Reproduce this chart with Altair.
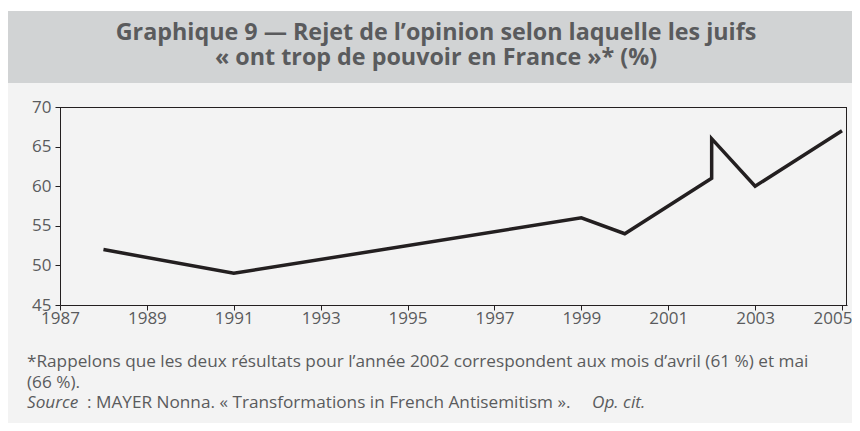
import altair as alt
import pandas as pd

# ---- data ----
years = [1988, 1991, 1999, 2000, 2002, 2002, 2003, 2005]
values = [52, 49, 56, 54, 61, 66, 60, 67]
order = list(range(len(years)))
x_ticks = [1987, 1989, 1991, 1993, 1995, 1997, 1999, 2001, 2003, 2005]
y_ticks = [45, 50, 55, 60, 65, 70]

title_lines = [
    "Graphique 9 — Rejet de l’opinion selon laquelle les juifs",
    "« ont trop de pouvoir en France »* (%)",
]
note_lines = [
    "*Rappelons que les deux résultats pour l’année 2002 correspondent aux mois d’avril (61 %) et mai",
    "(66 %).",
]
source_parts = ["Source", ": MAYER Nonna. « Transformations in French Antisemitism ».", "Op. cit."]

W, H = 787, 198
FONT = "Open Sans"
TXT = "#5a5b5d"
INK = "#231f20"
NOTE_SIZE = 17.2

df = pd.DataFrame({"year": years, "value": values, "order": order})
one = pd.DataFrame({"k": [0]})


def rect(x, x2, y, y2, color):
    return alt.Chart(one).mark_rect(color=color, strokeWidth=0).encode(
        x=alt.value(x), x2=alt.value(x2), y=alt.value(y), y2=alt.value(y2)
    )


def text(s, x, y, size, bold=False, italic=False, align="left"):
    return alt.Chart(pd.DataFrame({"t": [s]})).mark_text(
        font=FONT, fontSize=size, fontWeight="bold" if bold else "normal",
        fontStyle="italic" if italic else "normal", color=TXT,
        align=align, baseline="alphabetic",
    ).encode(x=alt.value(x), y=alt.value(y), text="t:N")


bg = rect(-53, 800, -24, 330, "#f3f3f3")
header = rect(-55, 800, -96, -24, "#d1d3d4")
leftbar = rect(-55, -53, -24, 330, "#d1d3d4")

line = alt.Chart(df).mark_line(color=INK, strokeWidth=3.5, strokeJoin="miter").encode(
    x=alt.X("year:Q", scale=alt.Scale(domain=[1987, 2005.115], nice=False, zero=False),
            axis=alt.Axis(values=x_ticks, format="d", title=None, grid=False,
                          tickSize=5, labelPadding=0, zindex=1,
                          labelAlign=alt.condition("datum.value == 2005", alt.value("right"), alt.value("center")),
                          labelOffset=alt.condition("datum.value == 2005", alt.value(10), alt.value(0)))),
    y=alt.Y("value:Q", scale=alt.Scale(domain=[45, 70], nice=False, zero=False),
            axis=alt.Axis(values=y_ticks, title=None, grid=False,
                          tickSize=5, labelPadding=4, zindex=1)),
    order="order:Q",
)

top_rule = alt.Chart(one).mark_rule(color=INK, strokeWidth=1).encode(
    x=alt.value(0), x2=alt.value(W), y=alt.value(0.5))
right_rule = alt.Chart(one).mark_rule(color=INK, strokeWidth=1).encode(
    x=alt.value(W - 0.5), y=alt.value(0), y2=alt.value(H))

t1 = text(title_lines[0], 376, -67, 23.3, bold=True, align="center")
t2 = text(title_lines[1], 376, -42, 23.3, bold=True, align="center")
n1 = text(note_lines[0], -33, 260, NOTE_SIZE)
n2 = text(note_lines[1], -33, 281, NOTE_SIZE)
s1 = text(source_parts[0], -33, 301, NOTE_SIZE, italic=True)
s2 = text(source_parts[1], 27, 301, NOTE_SIZE)
s3 = text(source_parts[2], 532, 301, NOTE_SIZE, italic=True)

chart = alt.layer(
    bg, header, leftbar, line, top_rule, right_rule, t1, t2, n1, n2, s1, s2, s3
).properties(
    width=W, height=H,
    autosize=alt.AutoSizeParams(type="none"),
    padding={"left": 52, "top": 99, "right": 5, "bottom": 118},
    background="white",
).configure_view(stroke=None).configure_axis(
    labelFont=FONT, labelFontSize=17, labelColor=TXT,
    domainColor=INK, tickColor=INK, domainWidth=1, tickWidth=1,
)

chart.save("out.html", embed_options={"renderer": "svg", "actions": False})
